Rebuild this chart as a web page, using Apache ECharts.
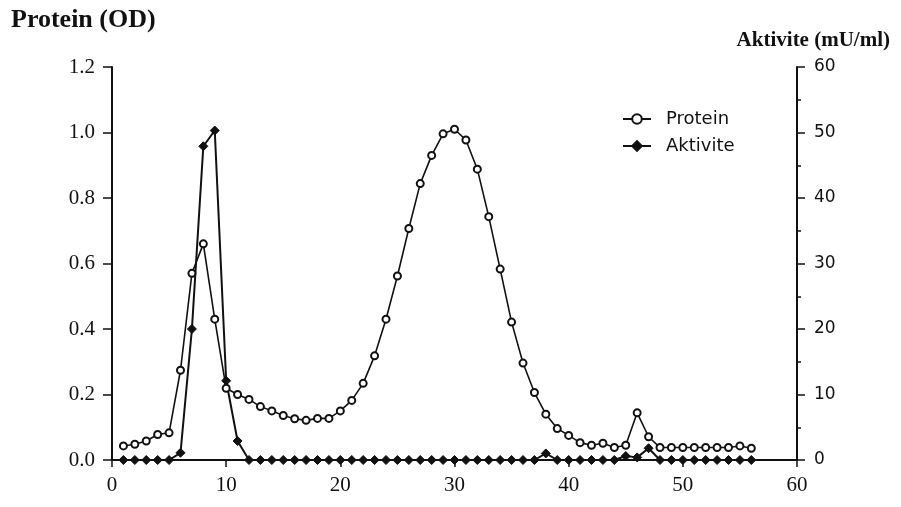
<!DOCTYPE html>
<html>
<head>
<meta charset="utf-8">
<script src="https://cdn.jsdelivr.net/npm/echarts@6/dist/echarts.min.js"></script>
<style>
  html, body { margin: 0; padding: 0; background: #fff; }
  #chart { width: 901px; height: 507px; }
</style>
</head>
<body>
<div id="chart"></div>
<script>
// Fraction numbers (x axis)
const fractions = [];
for (let i = 1; i <= 56; i++) fractions.push(i);

// Protein, OD (left axis)
const protein = [
  0.043, 0.048, 0.058, 0.078, 0.083, 0.274, 0.57, 0.66, 0.43, 0.219,
  0.200, 0.185, 0.163, 0.150, 0.136, 0.126, 0.121, 0.127, 0.127, 0.150,
  0.182, 0.234, 0.318, 0.430, 0.562, 0.707, 0.844, 0.930, 0.996, 1.010,
  0.977, 0.888, 0.743, 0.583, 0.421, 0.296, 0.206, 0.140, 0.096, 0.075,
  0.053, 0.045, 0.051, 0.038, 0.045, 0.144, 0.071, 0.038, 0.038, 0.038,
  0.038, 0.038, 0.038, 0.038, 0.043, 0.036
];

// Activity, mU/ml (right axis)
const activity = [
  0, 0, 0, 0, 0, 1.1, 20.0, 47.9, 50.3, 12.1,
  2.9, 0, 0, 0, 0, 0, 0, 0, 0, 0,
  0, 0, 0, 0, 0, 0, 0, 0, 0, 0,
  0, 0, 0, 0, 0, 0, 0, 1.0, 0, 0,
  0, 0, 0, 0, 0.6, 0.4, 1.8, 0, 0, 0,
  0, 0, 0, 0, 0, 0
];

const xTicks = [0, 10, 20, 30, 40, 50, 60];
const leftTicks = [0.0, 0.2, 0.4, 0.6, 0.8, 1.0, 1.2];
const rightTicks = [0, 10, 20, 30, 40, 50, 60];

const ink = '#111';
const serif = '"Liberation Serif", "Times New Roman", serif';
const sans = '"DejaVu Sans", sans-serif';

const chart = echarts.init(document.getElementById('chart'), null, { renderer: 'canvas' });

chart.setOption({
  backgroundColor: '#fff',
  animation: false,
  title: [
    {
      text: 'Protein (OD)',
      left: 6, top: 2,
      textStyle: { fontFamily: serif, fontWeight: 'bold', fontSize: 26, color: ink }
    },
    {
      text: 'Aktivite (mU/ml)',
      right: 6, top: 25,
      textStyle: { fontFamily: serif, fontWeight: 'bold', fontSize: 21, color: ink }
    }
  ],
  legend: {
    orient: 'vertical',
    left: 617, top: 105,
    itemWidth: 28, itemHeight: 12,
    itemGap: 9,
    textStyle: { fontFamily: sans, fontSize: 18, color: ink, padding: [0, 0, 0, 10] },
    data: ['Protein', 'Aktivite']
  },
  grid: { left: 112, right: 104, top: 67, bottom: 47, containLabel: false },
  xAxis: {
    type: 'value',
    min: xTicks[0], max: xTicks[xTicks.length - 1], interval: 10,
    axisLine: { show: true, onZero: false, lineStyle: { color: ink, width: 2 } },
    axisTick: { show: true, length: 7, lineStyle: { color: ink, width: 1.5 } },
    axisLabel: { margin: 15, fontFamily: serif, fontSize: 21, color: ink },
    splitLine: { show: false }
  },
  yAxis: [
    {
      type: 'value', position: 'left',
      min: leftTicks[0], max: leftTicks[leftTicks.length - 1], interval: 0.2,
      axisLine: { show: true, lineStyle: { color: ink, width: 2 } },
      axisTick: { show: true, length: 9, lineStyle: { color: ink, width: 1.5 } },
      axisLabel: {
        margin: 17, fontFamily: serif, fontSize: 21, color: ink,
        formatter: v => v.toFixed(1)
      },
      splitLine: { show: false }
    },
    {
      type: 'value', position: 'right',
      min: rightTicks[0], max: rightTicks[rightTicks.length - 1], interval: 10,
      axisLine: { show: true, lineStyle: { color: ink, width: 2 } },
      axisTick: { show: true, length: 8, lineStyle: { color: ink, width: 1.5 } },
      minorTick: { show: true, splitNumber: 2, length: 4, lineStyle: { color: ink, width: 1.5 } },
      axisLabel: { margin: 17, fontFamily: sans, fontSize: 17, color: ink },
      splitLine: { show: false }
    }
  ],
  series: [
    {
      name: 'Protein',
      type: 'line',
      yAxisIndex: 0,
      data: fractions.map((f, i) => [f, protein[i]]),
      symbol: 'circle',
      symbolSize: 7,
      showAllSymbol: true,
      lineStyle: { color: ink, width: 1.6 },
      itemStyle: { color: '#fff', borderColor: ink, borderWidth: 2 },
      z: 3
    },
    {
      name: 'Aktivite',
      type: 'line',
      yAxisIndex: 1,
      data: fractions.map((f, i) => [f, activity[i]]),
      symbol: 'diamond',
      symbolSize: 9,
      showAllSymbol: true,
      lineStyle: { color: ink, width: 2 },
      itemStyle: { color: ink, borderColor: ink, borderWidth: 1 },
      z: 2
    }
  ]
});
</script>
</body>
</html>
